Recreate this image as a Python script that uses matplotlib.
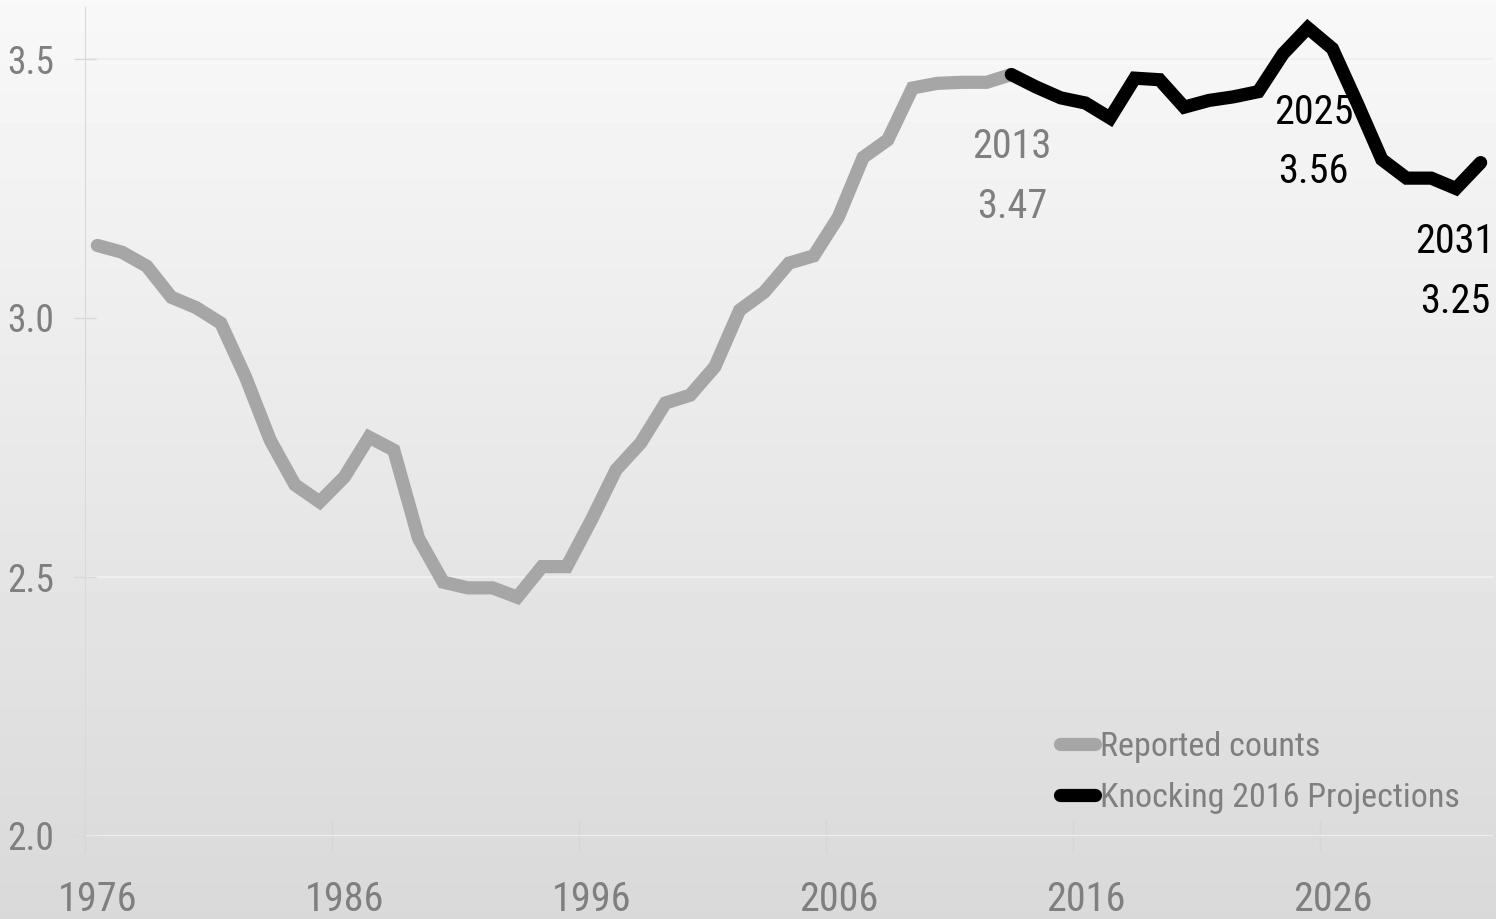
import os
import matplotlib
matplotlib.use('Agg')
import matplotlib.pyplot as plt
import numpy as np
from matplotlib import font_manager as fm
from matplotlib.font_manager import FontProperties

# Datos
years_reported = list(range(1976, 2014))
reported = [3.14, 3.127, 3.10, 3.04, 3.02, 2.99, 2.886, 2.764, 2.678, 2.645,
            2.693, 2.77, 2.745, 2.575, 2.49, 2.479, 2.479, 2.461, 2.52, 2.52,
            2.61, 2.707, 2.759, 2.836, 2.851, 2.906, 3.015, 3.05, 3.106, 3.12,
            3.195, 3.31, 3.344, 3.444, 3.453, 3.455, 3.455, 3.47]

years_proj = list(range(2013, 2033))
projection = [3.47, 3.446, 3.425, 3.415, 3.386, 3.463, 3.46, 3.407, 3.42, 3.427,
              3.437, 3.51, 3.56, 3.52, 3.415, 3.306, 3.27, 3.27, 3.25, 3.30]

series_names = ['Reported counts', 'Knocking 2016 Projections']
label_years = [1976, 1986, 1996, 2006, 2016, 2026]
y_ticks = [2.0, 2.5, 3.0, 3.5]
note_years = [2013, 2025, 2031]


# Buscar una fuente estrecha (tipo Calibri comprimida)
def find_narrow_font():
    prefs = ['LiberationSansNarrow-Regular', 'NotoSans-Condensed.',
             'NotoSans-CondensedRegular', 'RobotoCondensed-Regular',
             'DejaVuSansCondensed.']
    files = [f.fname for f in fm.fontManager.ttflist]
    for p in prefs:
        for fn in files:
            if p in os.path.basename(fn):
                return fn
    return None


narrow_file = find_narrow_font()


def font(size):
    if narrow_file:
        return FontProperties(fname=narrow_file, size=size)
    return FontProperties(family='DejaVu Sans', size=size, stretch='condensed')


W, H = 1496, 919
fig = plt.figure(figsize=(W / 100, H / 100), dpi=100)

# fondo degradado
bg = fig.add_axes([0, 0, 1, 1], zorder=-10)
grad = np.linspace(0.973, 0.851, 256).reshape(-1, 1)
bg.imshow(grad, aspect='auto', cmap='gray', vmin=0, vmax=1,
          extent=[0, 1, 0, 1], origin='upper')
bg.axis('off')

ax = fig.add_axes([85 / W, 83 / H, 1408 / W, (836 - 7.2) / H])
ax.set_facecolor('none')

ax.plot(years_reported, reported, color='#a6a6a6', lw=9.5,
        solid_capstyle='round', solid_joinstyle='miter',
        label=series_names[0], zorder=3)
ax.plot(years_proj, projection, color='black', lw=9.5,
        solid_capstyle='round', solid_joinstyle='miter',
        label=series_names[1], zorder=4)

ax.set_xlim(1975.5, 2032.5)
ax.set_ylim(2.0, 3.6)

# eje y
ax.set_yticks(y_ticks)
ax.set_yticklabels(['%.1f' % v for v in y_ticks], fontproperties=font(27))
ax.tick_params(axis='y', direction='inout', length=16, width=1,
               color='#d9d9d9', labelcolor='#7f7f7f', pad=14)
ax.grid(axis='y', color='#efefef', lw=1.5)
ax.set_axisbelow(True)

# eje x: marcas entre categorias, etiquetas en el centro
boundaries = [y - 0.5 for y in label_years]
ax.set_xticks(boundaries)
ax.set_xticklabels([])
ax.set_xticks(label_years, minor=True)
ax.set_xticklabels([str(y) for y in label_years], minor=True,
                   fontproperties=font(29))
ax.tick_params(axis='x', which='major', direction='inout', length=23,
               width=1, color='#d6d6d6')
ax.tick_params(axis='x', which='minor', length=0,
               labelcolor='#7f7f7f', pad=32)

for s in ['top', 'right']:
    ax.spines[s].set_visible(False)
ax.spines['left'].set_color('#d9d9d9')
ax.spines['bottom'].set_color('#dedede')

# etiquetas de puntos
all_vals = dict(zip(years_reported, reported))
all_vals.update({y: v for y, v in zip(years_proj, projection) if y != 2013})
note_colors = ['#7f7f7f', 'black', 'black']
note_dx = [0.7, 4.3, -0.7]
note_dy = [(-59.8, -103), (-69.1, -111.6), (-46.1, -89.3)]
for yr, col, dx, (dy1, dy2) in zip(note_years, note_colors, note_dx, note_dy):
    v = all_vals[yr]
    ax.annotate(str(yr), (yr, v), xytext=(dx, dy1), textcoords='offset points',
                ha='center', va='baseline', fontproperties=font(29), color=col)
    ax.annotate('%.2f' % v, (yr, v), xytext=(dx, dy2), textcoords='offset points',
                ha='center', va='baseline', fontproperties=font(29), color=col)

leg = ax.legend(loc='center left', bbox_to_anchor=(1060 / W, (H - 772.5) / H),
                bbox_transform=fig.transFigure, frameon=False, prop=font(24.5),
                labelcolor='#7f7f7f', handlelength=1.03, handletextpad=0.15,
                labelspacing=0.54, borderpad=0, borderaxespad=0)

fig.savefig('out.png', dpi=100)
